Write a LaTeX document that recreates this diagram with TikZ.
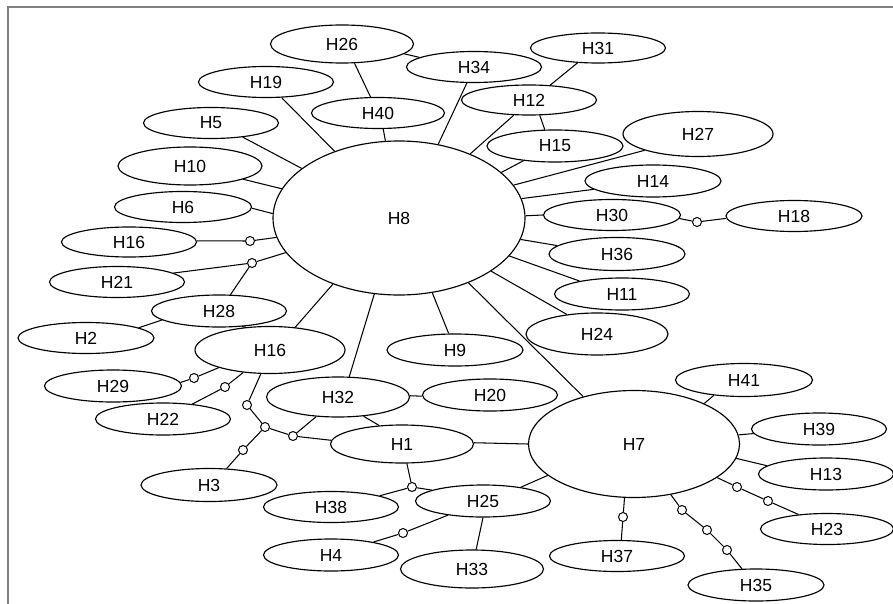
\documentclass[tikz,border=0pt]{standalone}
\usepackage{fontspec}
\setmainfont{Liberation Sans}
\usetikzlibrary{shapes.geometric}
\definecolor{framegray}{RGB}{128,128,128}
\begin{document}
\begin{tikzpicture}[x=1pt,y=-1pt,
  hap/.style={ellipse,draw,line width=1.15pt,inner sep=0pt,minimum width=135pt,minimum height=31pt,font=\fontsize{17.5}{20}\selectfont},
  med/.style={circle,draw,fill=white,line width=1pt,minimum size=9pt,inner sep=0pt},
  link/.style={line width=1.05pt}]
\useasboundingbox (0,0) rectangle (893,604);
\draw[framegray,line width=1.5pt] (8,604) -- (8,7) -- (893,7);

% haplotypes
\node[hap,minimum width=143pt,minimum height=38pt] (H26) at (342,44) {H26};
\node[hap] (H34) at (474,67) {H34};
\node[hap] (H19) at (266,82) {H19};
\node[hap,minimum width=133pt] (H40) at (378,113) {H40};
\node[hap] (H5) at (211,123) {H5};
\node[hap,minimum width=144pt,minimum height=38pt] (H10) at (190,166) {H10};
\node[hap,minimum height=30pt] (H12) at (529,100) {H12};
\node[hap,minimum height=30pt] (H31) at (598,48) {H31};
\node[hap,minimum width=136pt,minimum height=32pt] (H15) at (555,146) {H15};
\node[hap,minimum width=150pt,minimum height=45pt] (H27) at (698,134) {H27};
\node[hap,minimum width=136pt,minimum height=32pt] (H14) at (653,181) {H14};
\node[hap,minimum width=137pt] (H30) at (612,215) {H30};
\node[hap,minimum width=136pt] (H18) at (794,216) {H18};
\node[hap,minimum width=136pt,minimum height=33pt] (H36) at (617,254) {H36};
\node[hap,minimum height=32pt] (H11) at (622,294) {H11};
\node[hap,minimum width=142pt,minimum height=42pt] (H24) at (597,334) {H24};
\node[hap,minimum width=252pt,minimum height=154pt] (H8) at (399,218) {H8};
\node[hap,minimum width=137pt] (H6) at (183,207) {H6};
\node[hap,minimum height=30pt] (H16a) at (129,242) {H16};
\node[hap] (H21) at (117,282) {H21};
\node[hap,minimum height=32pt] (H28) at (219,311) {H28};
\node[hap,minimum width=136pt] (H2) at (86,338) {H2};
\node[hap,minimum width=150pt,minimum height=47pt] (H16b) at (270,350) {H16};
\node[hap,minimum width=137pt,minimum height=32pt] (H29) at (113,386) {H29};
\node[hap,minimum height=32pt] (H22) at (163,419) {H22};
\node[hap,minimum width=143pt,minimum height=40pt] (H32) at (338,397) {H32};
\node[hap,minimum width=136pt,minimum height=32pt] (H9) at (455,350) {H9};
\node[hap,minimum height=32pt] (H20) at (490,395) {H20};
\node[hap,minimum width=143pt,minimum height=38pt] (H1) at (402,444) {H1};
\node[hap] (H38) at (331,507) {H38};
\node[hap,minimum height=32pt] (H25) at (483,501) {H25};
\node[hap,minimum height=32pt] (H4) at (331,555) {H4};
\node[hap,minimum width=143pt,minimum height=38pt] (H33) at (472,569) {H33};
\node[hap,minimum width=136pt,minimum height=33pt] (H3) at (209,485) {H3};
\node[hap] (H37) at (617,556) {H37};
\node[hap,minimum width=211pt,minimum height=107pt] (H7) at (634,444) {H7};
\node[hap,minimum width=137pt,minimum height=33pt] (H41) at (744,380) {H41};
\node[hap,minimum height=32pt] (H39) at (819,429) {H39};
\node[hap,minimum height=32pt] (H13) at (826,474) {H13};
\node[hap,minimum width=133pt] (H23) at (827,529) {H23};
\node[hap,minimum width=136pt,minimum height=32pt] (H35) at (756,585) {H35};

% median vectors
\node[med] (c1) at (697,222) {};
\node[med] (c2) at (250,241) {};
\node[med] (c3) at (252,263) {};
\node[med] (c4) at (194,378) {};
\node[med] (c5) at (225,387) {};
\node[med] (c6) at (247,405) {};
\node[med] (c7) at (265,427) {};
\node[med] (c8) at (293,436) {};
\node[med] (c9) at (243,450) {};
\node[med] (c10) at (412,487) {};
\node[med] (c11) at (403,533) {};
\node[med] (c12) at (623,517) {};
\node[med] (c13) at (682,510) {};
\node[med] (c14) at (707,530) {};
\node[med] (c15) at (727,550) {};
\node[med] (c16) at (737,487) {};
\node[med] (c17) at (768,501) {};

% connectors
\draw[link] (H26.-57) -- (H40.115);
\draw[link] (H40.-72) -- (H8.100);
\draw[link] (H19.-45) -- (H8.134);
\draw[link] (H5.-24) -- (H8.153);
\draw[link] (H10.-14) -- (H8.166);
\draw[link] (H34.-114) -- (H8.62);
\draw[link] (H26.-9) -- (H34.170);
\draw[link] (H31.-144) -- (H12.35);
\draw[link] (H12.-135) -- (H8.42);
\draw[link] (H12.-55) -- (H15.122);
\draw[link] (H15.-155) -- (H8.24);
\draw[link] (H27.-163) -- (H8.16);
\draw[link] (H14.-172) -- (H8.9);
\draw[link] (H30.180) -- (H8.1);
\draw[link] (H30.-3) -- (c1) -- (H18.182);
\draw[link] (H36.172) -- (H8.-10);
\draw[link] (H11.163) -- (H8.-19);
\draw[link] (H24.147) -- (H8.-30);
\draw[link] (H8.-43) -- (H7.137);
\draw[link] (H8.-66) -- (H9.111);
\draw[link] (H8.-108) -- (H32.61);
\draw[link] (H8.-135) -- (H16b.42);
\draw[link] (H6.-1) -- (H8.178);
\draw[link] (H16a.1) -- (c2) -- (H8.189);
\draw[link] (H21.9) -- (c3) -- (H8.197);
\draw[link] (H28.55) -- (c3);
\draw[link] (H28.-171) -- (H2.11);
\draw[link] (H28.-34) -- (H16b.137);
\draw[link] (H16b.-161) -- (c4) -- (H29.3);
\draw[link] (H16b.-140) -- (c5) -- (H22.27);
\draw[link] (H16b.-111) -- (c6) -- (c7) -- (c8) -- (H32.-138);
\draw[link] (c8) -- (H1.177);
\draw[link] (c7) -- (c9) -- (H3.43);
\draw[link] (H32.-37) -- (H1.141);
\draw[link] (H32.1) -- (H20.181);
\draw[link] (H1.1) -- (H7.180);
\draw[link] (H1.-76) -- (c10) -- (H38.13);
\draw[link] (c10) -- (H25.168);
\draw[link] (H25.20) -- (H7.-160);
\draw[link] (H25.-158) -- (c11) -- (H4.17);
\draw[link] (H25.-90) -- (H33.78);
\draw[link] (H7.-100) -- (c12) -- (H37.75);
\draw[link] (H7.-54) -- (c13) -- (c14) -- (c15) -- (H35.131);
\draw[link] (H7.-22) -- (c16) -- (c17) -- (H23.153);
\draw[link] (H7.-8) -- (H13.172);
\draw[link] (H7.5) -- (H39.184);
\draw[link] (H7.30) -- (H41.-153);
\end{tikzpicture}
\end{document}
